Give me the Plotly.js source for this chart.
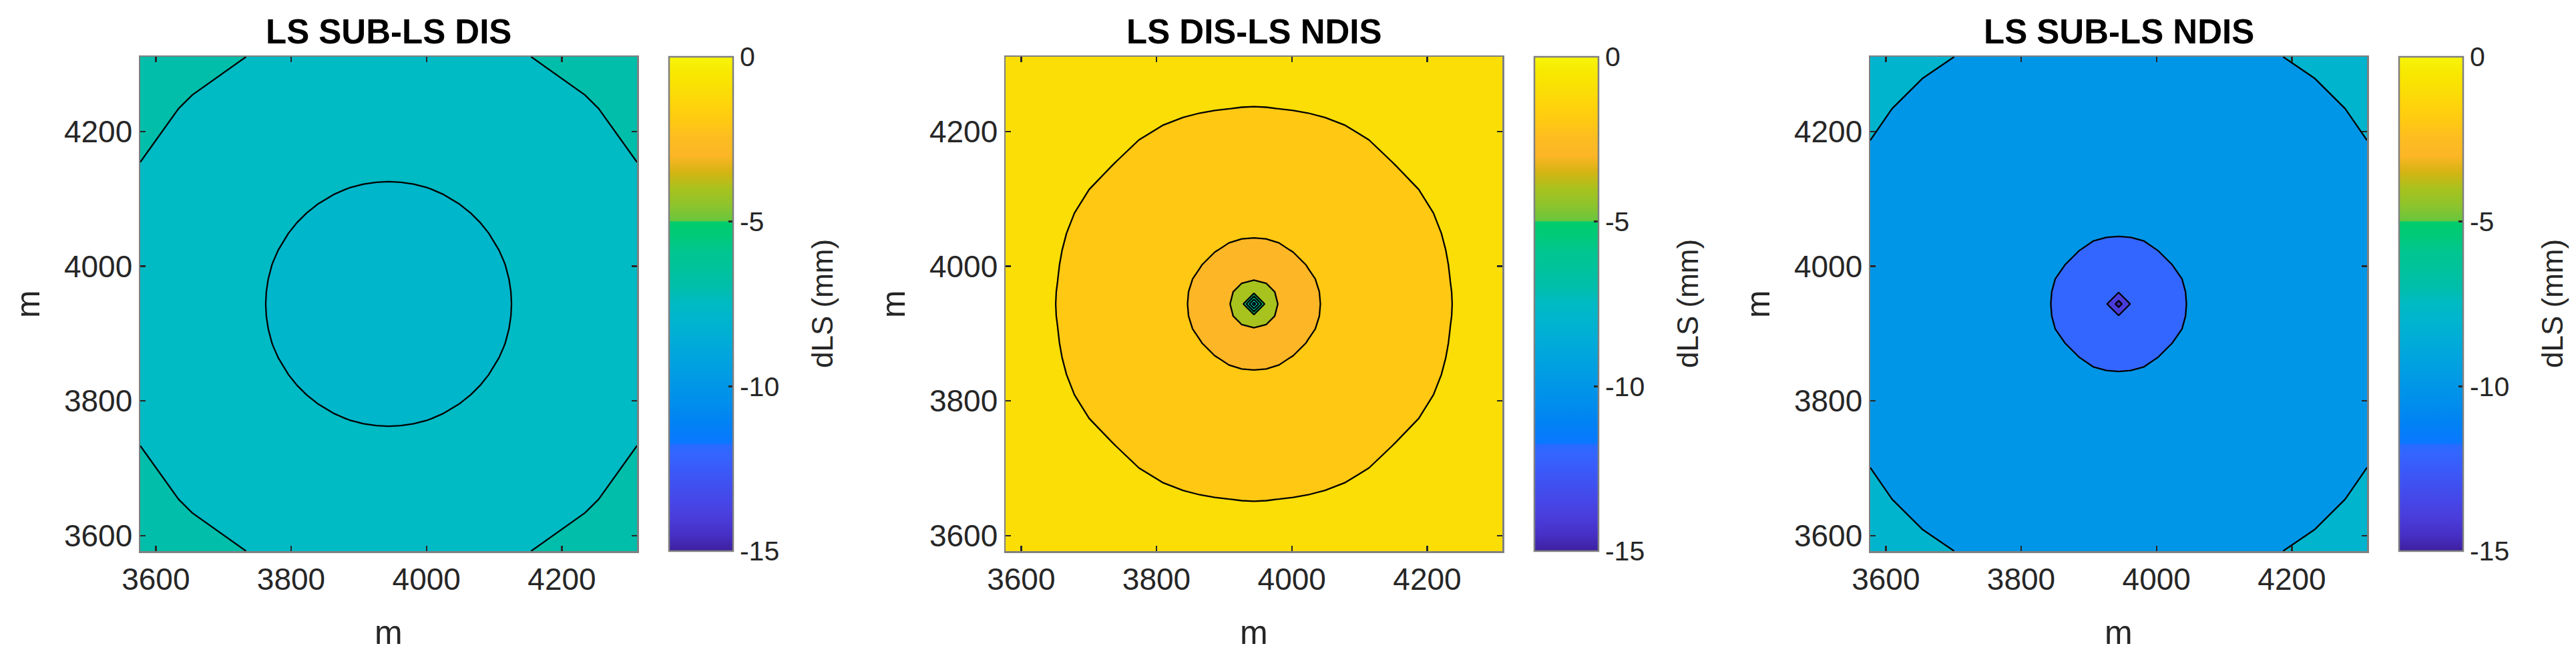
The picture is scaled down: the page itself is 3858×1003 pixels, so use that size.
<!DOCTYPE html>
<html>
<head>
<meta charset="utf-8">
<script src="https://cdn.plot.ly/plotly-3.0.1.min.js"></script>
<style>
html, body { margin: 0; padding: 0; background: #ffffff; }
#chart { width: 3858px; height: 1003px; }
</style>
</head>
<body>
<div id="chart"></div>
<script>
// ---------------- DATA ----------------
const panelTitles = ['LS SUB-LS DIS', 'LS DIS-LS NDIS', 'LS SUB-LS NDIS'];
const axisLabel = 'm';
const colorbarLabel = 'dLS (mm)';

// model grid: well centre (m) and node offsets from it (m), refined near the well
const wellCentre = 3944;
const nodeOffsets = [0, 18, 37, 58, 80, 105, 135, 170, 211, 290, 367];
const axisRange = [3577, 4311];

const xTickVals = [3600, 3800, 4000, 4200];
const cbTickVals = [-15, -10, -5, 0];
const cbTickText = ['-15', '-10', '-5', '0'];
const cbMin = -15;
const cbMax = 0;

const subDisRadius = [0, 18, 60, 120, 182, 250, 330, 423, 520];
const subDisValue  = [-7.85, -7.83, -7.75, -7.63, -7.5, -7.35, -7.18, -7.0, -6.85];
const subDisLevels = { start: -7.5, end: -7.0, size: 0.5 };

const disNdisRadius = [0, 18, 37, 60, 95, 150, 220, 292, 380, 520];
const disNdisValue  = [-7.5, -3.5, -2.95, -2.45, -2.0, -1.6, -1.3, -1.0, -0.75, -0.5];
const disNdisLevels = { start: -7, end: -1, size: 1 };

const subNdisRadius = [0, 18, 37, 60, 98, 150, 220, 300, 436, 520];
const subNdisValue  = [-14.8, -11.85, -11.2, -10.6, -10.0, -9.5, -9.0, -8.55, -8.0, -7.8];
const subNdisLevels = { start: -14, end: -8, size: 2 };

// colormap (value -> colour) as shown in the colour bar
const cmapValues = [-15, -14.5, -14, -13.5, -13, -12.5, -12, -11.8, -11.7, -11, -10.5, -10, -9.5, -9, -8.5, -8, -7.5, -7, -6, -5.5, -5.0, -4.99, -4.5, -4, -3.5, -3, -2.5, -2, -1.5, -1, -0.5, 0];
const cmapColors = ['#3e1f9e', '#4630c6', '#4a3cda', '#4646e6', '#4050f0', '#3a5afa', '#3366ff', '#2a6aff', '#0878ff', '#0084f2', '#008eec', '#0096e8', '#009ee2', '#00a6dc', '#00aed6', '#00b4ce', '#00bac4', '#00beaa', '#00c592', '#00c97c', '#00cc6a', '#68c63e', '#8ec42c', '#a8c21e', '#d4b412', '#fdb626', '#fdbc22', '#ffc813', '#ffd30c', '#fade05', '#f8e800', '#f7f50a'];

// ---------------- HELPERS ----------------
function hexToRgb(h) {
  return [parseInt(h.slice(1, 3), 16), parseInt(h.slice(3, 5), 16), parseInt(h.slice(5, 7), 16)];
}
function cmapAt(v) {
  if (v <= cmapValues[0]) return cmapColors[0];
  for (let i = 1; i < cmapValues.length; i++) {
    if (v <= cmapValues[i]) {
      const t = (v - cmapValues[i - 1]) / (cmapValues[i] - cmapValues[i - 1]);
      const a = hexToRgb(cmapColors[i - 1]), b = hexToRgb(cmapColors[i]);
      const c = a.map((x, k) => Math.round(x + (b[k] - x) * t));
      return 'rgb(' + c.join(',') + ')';
    }
  }
  return cmapColors[cmapColors.length - 1];
}
const cbScale = cmapValues.map((v, i) => [(v - cbMin) / (cbMax - cbMin), cmapColors[i]]);

const nodes = nodeOffsets.slice(1).reverse().map(o => wellCentre - o)
  .concat(nodeOffsets.map(o => wellCentre + o));

function profileAt(radius, value, r) {
  if (r <= radius[0]) return value[0];
  for (let i = 1; i < radius.length; i++) {
    if (r <= radius[i]) {
      const t = (r - radius[i - 1]) / (radius[i] - radius[i - 1]);
      return value[i - 1] + (value[i] - value[i - 1]) * t;
    }
  }
  return value[value.length - 1];
}
function buildField(radius, value) {
  return nodes.map(y => nodes.map(x => profileAt(radius, value, Math.hypot(x - wellCentre, y - wellCentre))));
}
// MATLAB contourf: band above level L filled with colormap(L); below first level with colormap(min)
function fillScale(levels, zmin) {
  const n = Math.round((levels.end - levels.start) / levels.size) + 1;
  const sc = [[0, cmapAt(zmin)]];
  for (let k = 0; k < n; k++) sc.push([(k + 1) / n, cmapAt(levels.start + k * levels.size)]);
  return sc;
}

// ---------------- LAYOUT GEOMETRY (px) ----------------
const W = 3858, H = 1003;
const plotLeft = [210, 1506, 2801];
const plotWidth = 744;
const plotTop = 85, plotBottom = 825;
const cbGap = 48, cbThick = 96;

const panels = [
  { radius: subDisRadius, value: subDisValue, levels: subDisLevels },
  { radius: disNdisRadius, value: disNdisValue, levels: disNdisLevels },
  { radius: subNdisRadius, value: subNdisValue, levels: subNdisLevels }
];

const FONT = 'Liberation Sans, Arial, Helvetica, sans-serif';
const TXT = '#262626';
const data = [];
const layout = {
  width: W, height: H,
  margin: { l: 0, r: 0, t: 0, b: 0, pad: 0 },
  paper_bgcolor: '#ffffff', plot_bgcolor: '#ffffff',
  showlegend: false,
  font: { family: FONT, color: TXT },
  annotations: []
};

const yDom = [1 - plotBottom / H, 1 - plotTop / H];
const yMid = (yDom[0] + yDom[1]) / 2;

panels.forEach((p, i) => {
  const ax = i === 0 ? '' : String(i + 1);
  const z = buildField(p.radius, p.value);
  const zmin = Math.min(...p.value);
  data.push({
    type: 'contour', x: nodes, y: nodes, z: z,
    xaxis: 'x' + ax, yaxis: 'y' + ax,
    autocontour: false,
    contours: { start: p.levels.start, end: p.levels.end, size: p.levels.size, coloring: 'fill', showlines: true },
    line: { color: '#000000', width: 2.3, smoothing: 0 },
    colorscale: fillScale(p.levels, zmin),
    showscale: false, hoverinfo: 'skip'
  });
  const cbLeft = plotLeft[i] + plotWidth + cbGap;
  data.push({
    type: 'scatter', mode: 'markers', x: [3000], y: [3000],
    xaxis: 'x' + ax, yaxis: 'y' + ax, hoverinfo: 'skip', showlegend: false,
    marker: {
      size: 1, color: [cbMin], cmin: cbMin, cmax: cbMax, colorscale: cbScale, showscale: true,
      colorbar: {
        x: cbLeft / W, xanchor: 'left', y: yMid, yanchor: 'middle',
        len: (plotBottom - plotTop) / H, lenmode: 'fraction',
        thickness: cbThick, thicknessmode: 'pixels', xpad: 0, ypad: 0,
        outlinewidth: 2.5, outlinecolor: '#808080',
        tickmode: 'array', tickvals: cbTickVals, ticktext: cbTickText,
        ticks: 'inside', ticklen: 8, tickwidth: 2.5, tickcolor: TXT,
        tickfont: { size: 41, color: TXT, family: FONT }
      }
    }
  });
  const xDom = [plotLeft[i] / W, (plotLeft[i] + plotWidth) / W];
  const axBase = {
    range: axisRange, tickmode: 'array',
    ticks: 'inside', ticklen: 8, tickwidth: 2.5, tickcolor: TXT,
    showline: true, linecolor: '#808080', linewidth: 2.5, mirror: 'ticks',
    showgrid: false, zeroline: false, fixedrange: true,
    tickfont: { size: 46, color: TXT, family: FONT }
  };
  layout['xaxis' + ax] = Object.assign({}, axBase, {
    domain: xDom, anchor: 'y' + ax, tickvals: xTickVals, ticktext: xTickVals.map(String)
  });
  layout['yaxis' + ax] = Object.assign({}, axBase, {
    domain: yDom, anchor: 'x' + ax, tickvals: xTickVals, ticktext: xTickVals.map(String)
  });
  const cx = (plotLeft[i] + plotWidth / 2) / W;
  layout.annotations.push(
    { text: '<b>' + panelTitles[i] + '</b>', xref: 'paper', yref: 'paper', x: cx, y: 1 - 47 / H,
      xanchor: 'center', yanchor: 'middle', showarrow: false, font: { size: 51, color: '#000000', family: FONT } },
    { text: axisLabel, xref: 'paper', yref: 'paper', x: cx, y: 1 - 947 / H,
      xanchor: 'center', yanchor: 'middle', showarrow: false, font: { size: 50, color: TXT, family: FONT } },
    { text: axisLabel, xref: 'paper', yref: 'paper', x: (plotLeft[i] - 168) / W, y: yMid, textangle: -90,
      xanchor: 'center', yanchor: 'middle', showarrow: false, font: { size: 50, color: TXT, family: FONT } },
    { text: colorbarLabel, xref: 'paper', yref: 'paper', x: (cbLeft + cbThick + 134) / W, y: yMid, textangle: -90,
      xanchor: 'center', yanchor: 'middle', showarrow: false, font: { size: 44, color: TXT, family: FONT } }
  );
});

Plotly.newPlot('chart', data, layout, { staticPlot: true, displayModeBar: false });
</script>
</body>
</html>
